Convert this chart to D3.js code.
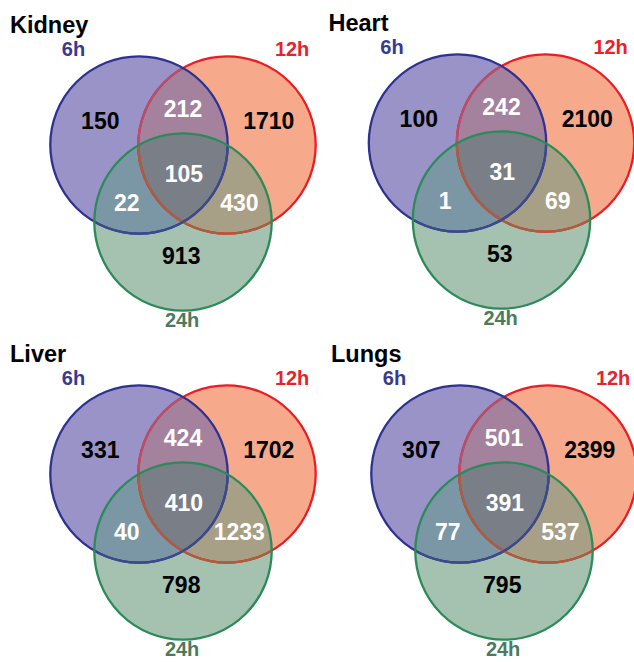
<!DOCTYPE html>
<html lang="en">

<head>
    <meta charset="utf-8">
    <title>Venn diagrams - DEGs per organ</title>
    <script type="text/javascript" src="https://d3js.org/d3.v7.min.js"></script>
    <style type="text/css">
        body { margin: 0; background: #fff; }
        text { font-family: "Liberation Sans", Arial, sans-serif; font-weight: bold; }
    </style>
</head>

<body>
    <script type="text/javascript">
        //Chart data
        const organs = ["Kidney", "Heart", "Liver", "Lungs"];
        const timepoints = ["6h", "12h", "24h"];
        //region order: 6h only, 12h only, 24h only, 6h&12h, 6h&24h, 12h&24h, all three
        const regionKeys = ["6h", "12h", "24h", "6h&12h", "6h&24h", "12h&24h", "6h&12h&24h"];
        const kidneyCounts = [150, 1710, 913, 212, 22, 430, 105];
        const heartCounts = [100, 2100, 53, 242, 1, 69, 31];
        const liverCounts = [331, 1702, 798, 424, 40, 1233, 410];
        const lungsCounts = [307, 2399, 795, 501, 77, 537, 391];
        const allCounts = [kidneyCounts, heartCounts, liverCounts, lungsCounts];

        //Layout (venn units: 6h circle centre = 0,0 ; 12h centre = 1,0)
        const canvasWidth = 634;
        const canvasHeight = 662;
        const panelPos = [[139, 145], [457.5, 143], [139, 474], [460, 474]];
        const circleCentres = [[0, 0], [1, 0], [0.5, 0.875]];
        const circleR = 1.008;
        const labelPos = {
            "6h": [-0.44, -0.28], "12h": [1.475, -0.28], "24h": [0.48, 1.26],
            "6h&12h": [0.5, -0.41], "6h&24h": [-0.14, 0.66], "12h&24h": [1.14, 0.66],
            "6h&12h&24h": [0.51, 0.325]
        };
        const whiteRegions = ["6h&12h", "6h&24h", "12h&24h", "6h&12h&24h"];
        const setLabelPos = [[-0.745, -1.01], [1.74, -1.01], [0.49, 2.07]];

        const fillCol = {
            "6h": "#9a93c8", "12h": "#f6a98b", "24h": "#a5c1b0",
            "6h&12h": "#a4819d", "6h&24h": "#7b96a4", "12h&24h": "#a89f87",
            "6h&12h&24h": "#7a7f87"
        };
        const strokeCol = ["#2e3192", "#ec1c24", "#2a8b58"];
        const labelCol = ["#393a8e", "#e8222a", "#4b7b5d"];

        const unit = d3.scaleLinear().domain([0, 1]).range([0, 88]);

        const svg = d3.select('body')
            .append('svg')
            .attr('width', canvasWidth)
            .attr('height', canvasHeight);

        const defs = svg.append('defs');

        organs.forEach((organ, p) => {
            const counts = allCounts[p];
            const g = svg.append('g')
                .attr('transform', 'translate(' + panelPos[p][0] + ',' + panelPos[p][1] + ')');

            //clip paths for each circle
            const clipId = (i) => 'clip-' + p + '-' + i;
            circleCentres.forEach((c, i) => {
                defs.append('clipPath').attr('id', clipId(i))
                    .append('circle')
                    .attr('cx', unit(c[0]))
                    .attr('cy', unit(c[1]))
                    .attr('r', unit(circleR));
            });

            const circ = (sel, i) => sel.append('circle')
                .attr('cx', unit(circleCentres[i][0]))
                .attr('cy', unit(circleCentres[i][1]))
                .attr('r', unit(circleR));

            //single regions
            timepoints.forEach((t, i) => {
                circ(g, i).attr('fill', fillCol[t]);
            });
            //pairwise overlaps
            circ(g, 1).attr('fill', fillCol["6h&12h"]).attr('clip-path', 'url(#' + clipId(0) + ')');
            circ(g, 2).attr('fill', fillCol["6h&24h"]).attr('clip-path', 'url(#' + clipId(0) + ')');
            circ(g, 2).attr('fill', fillCol["12h&24h"]).attr('clip-path', 'url(#' + clipId(1) + ')');
            //triple overlap
            const g3 = g.append('g').attr('clip-path', 'url(#' + clipId(0) + ')');
            circ(g3, 2).attr('fill', fillCol["6h&12h&24h"]).attr('clip-path', 'url(#' + clipId(1) + ')');

            //outlines: 12h under 6h under 24h
            const sw = 2.3;
            circ(g, 1).attr('fill', 'none').attr('stroke', strokeCol[1]).attr('stroke-width', sw);
            circ(g, 1).attr('fill', 'none').attr('stroke', '#b2506e').attr('stroke-width', sw)
                .attr('clip-path', 'url(#' + clipId(0) + ')');
            circ(g, 0).attr('fill', 'none').attr('stroke', strokeCol[0]).attr('stroke-width', sw);
            circ(g, 1).attr('fill', 'none').attr('stroke', '#a6603f').attr('stroke-width', sw)
                .attr('clip-path', 'url(#' + clipId(2) + ')');
            circ(g, 0).attr('fill', 'none').attr('stroke', '#3b4a8a').attr('stroke-width', sw)
                .attr('clip-path', 'url(#' + clipId(2) + ')');
            circ(g, 2).attr('fill', 'none').attr('stroke', strokeCol[2]).attr('stroke-width', sw);

            //region counts
            g.selectAll('text.count')
                .data(regionKeys.map((k, i) => ({ key: k, value: counts[i] })))
                .enter()
                .append('text')
                .attr('class', 'count')
                .attr('x', d => unit(labelPos[d.key][0]))
                .attr('y', d => unit(labelPos[d.key][1]))
                .attr('dy', '0.36em')
                .attr('text-anchor', 'middle')
                .attr('font-size', 23)
                .attr('fill', d => whiteRegions.includes(d.key) ? '#ffffff' : '#000000')
                .text(d => d.value);

            //set labels
            g.selectAll('text.setlabel')
                .data(timepoints)
                .enter()
                .append('text')
                .attr('class', 'setlabel')
                .attr('x', (d, i) => unit(setLabelPos[i][0]))
                .attr('y', (d, i) => unit(setLabelPos[i][1]))
                .attr('text-anchor', 'middle')
                .attr('font-size', 20)
                .attr('fill', (d, i) => labelCol[i])
                .text(d => d);

            //organ title
            g.append('text')
                .attr('x', -129)
                .attr('y', -112)
                .attr('font-size', 23.5)
                .attr('fill', '#000')
                .text(organ);
        });
    </script>
</body>

</html>
